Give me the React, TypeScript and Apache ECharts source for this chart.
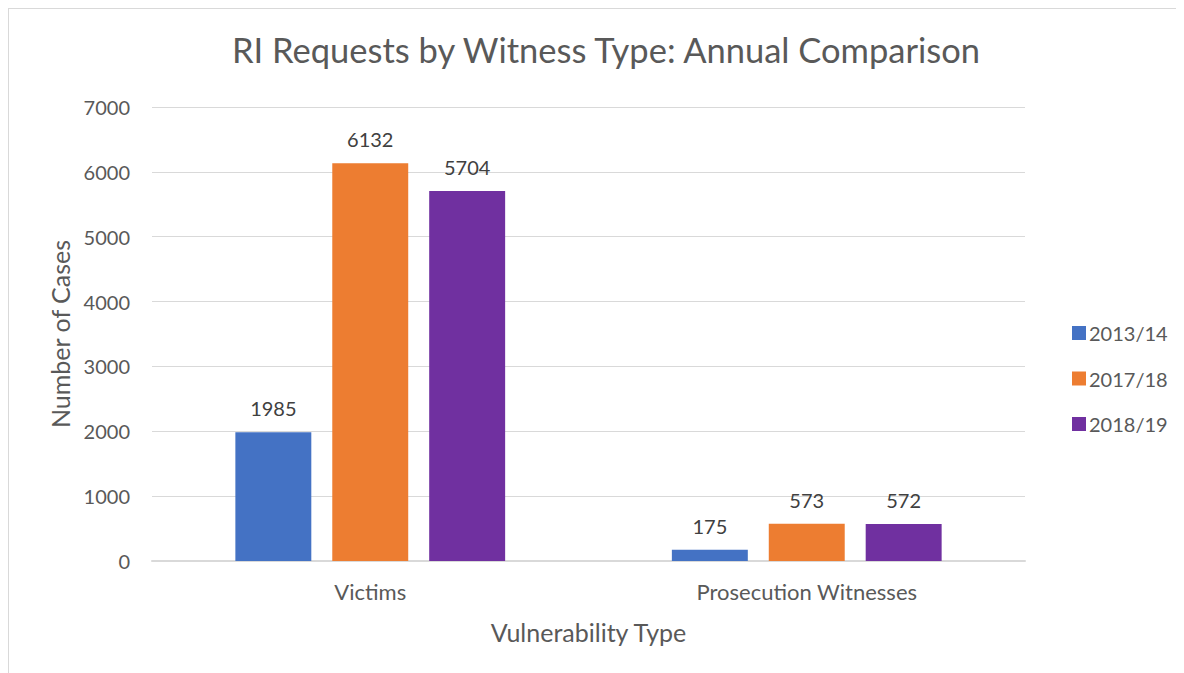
import React, { useEffect, useRef } from "react";
import * as echarts from "echarts";

const categories = ["Victims", "Prosecution Witnesses"];
const seriesNames = ["2013/14", "2017/18", "2018/19"];
const values2013 = [1985, 175];
const values2017 = [6132, 573];
const values2018 = [5704, 572];
const colors = ["#4472C4", "#ED7D31", "#7030A0"];

const FONT = "Lato, 'Open Sans', sans-serif";
const TXT = "#595959";

export default function App() {
  const ref = useRef<HTMLDivElement>(null);
  useEffect(() => {
    const chart = echarts.init(ref.current!, null, { renderer: "svg" });
    const data = [values2013, values2017, values2018];
    chart.setOption({
      animation: false,
      textStyle: { fontFamily: FONT },
      title: {
        text: "RI Requests by Witness Type: Annual Comparison",
        left: 592,
        textAlign: "center",
        top: 18,
        textStyle: { fontFamily: FONT, fontSize: 34.5, fontWeight: "normal", color: TXT },
      },
      legend: {
        orient: "vertical",
        left: 1058,
        top: 309,
        itemWidth: 14,
        itemHeight: 14,
        itemGap: 25.5,
        icon: "rect",
        textStyle: { fontFamily: FONT, fontSize: 20, color: TXT, padding: [0, 0, 0, -2] },
        data: seriesNames,
      },
      grid: { left: 143, right: 159, top: 98, bottom: 112 },
      xAxis: {
        type: "category",
        data: categories,
        name: "Vulnerability Type",
        nameLocation: "middle",
        nameGap: 58,
        nameTextStyle: { fontFamily: FONT, fontSize: 25, color: TXT },
        axisLine: { lineStyle: { color: "#D9D9D9", width: 2 } },
        axisTick: { show: false },
        axisLabel: { fontFamily: FONT, fontSize: 22, color: TXT, margin: 19 },
      },
      yAxis: {
        type: "value",
        min: 0,
        max: 7000,
        interval: 1000,
        name: "Number of Cases",
        nameLocation: "middle",
        nameGap: 80,
        nameTextStyle: { fontFamily: FONT, fontSize: 25, color: TXT },
        axisLabel: {
          fontFamily: FONT,
          fontSize: 20,
          color: TXT,
          margin: 22,
          formatter: (v: number) => String(v),
        },
        splitLine: { lineStyle: { color: "#D9D9D9", width: 1 } },
      },
      series: seriesNames.map((name, i) => ({
        name,
        type: "bar",
        data: data[i],
        barWidth: "17.4%",
        barGap: "27.6%",
        itemStyle: { color: colors[i] },
        label: {
          show: true,
          position: "top",
          distance: 14,
          fontFamily: FONT,
          fontSize: 20,
          color: "#404040",
        },
      })),
    });
    return () => chart.dispose();
  }, []);
  return (
    <div
      ref={ref}
      style={{
        width: 1176,
        height: 665,
        boxSizing: "border-box",
        borderLeft: "1px solid #D9D9D9",
        borderTop: "1px solid #D9D9D9",
      }}
    />
  );
}
